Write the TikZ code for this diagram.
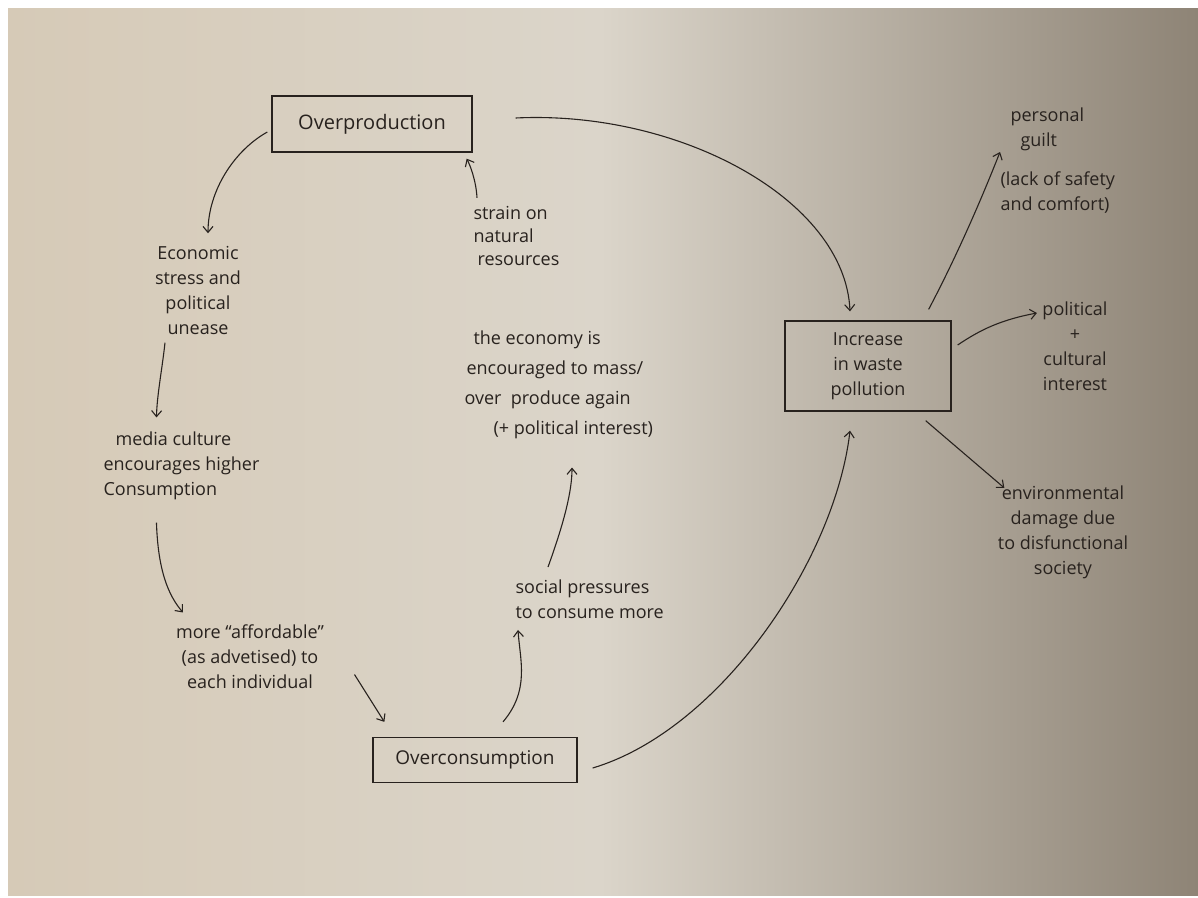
\documentclass[tikz,border=0pt]{standalone}
\usepackage{fontspec}
\setmainfont{Open Sans}
\usetikzlibrary{arrows.meta}
\definecolor{ink}{RGB}{40,34,30}
\definecolor{paperleft}{RGB}{214,202,183}
\definecolor{papermid}{RGB}{219,213,202}
\definecolor{paperright}{RGB}{142,132,118}
\begin{document}
\begin{tikzpicture}[x=1pt,y=-1pt,color=ink,line width=1.1pt,
    font=\fontsize{18}{25}\selectfont]
        % Styles
        \tikzstyle{box}=[draw,inner sep=0pt,line width=1.3pt]
        \tikzstyle{note}=[align=left,inner sep=0pt]
        \tikzstyle{flow}=[-{Straight Barb[length=6pt,width=10pt]}]
        %paper
        \useasboundingbox (0,0) rectangle (1198,897);
        \fill[white] (0,0) rectangle (1198,897);
        \shade[left color=paperleft,right color=papermid] (8,8) rectangle (600,895);
        \shade[left color=papermid,right color=paperright] (599.5,8) rectangle (1198,895);
        %the cycle
        \node[box,minimum width=200pt,minimum height=56pt,font=\fontsize{20}{25}\selectfont] (prod) at (372,124) {Overproduction};
        \node[note,align=center] (econ) at (198,290) {Economic\\stress and\\political\\unease};
        \node[note,anchor=west] (media) at (103,466) {\hspace*{12pt}media culture\\encourages higher\\Consumption};
        \node[note,align=center] (afford) at (250,657) {more “affordable”\\(as advetised) to\\each individual};
        \node[box,minimum width=204pt,minimum height=45pt,font=\fontsize{19}{25}\selectfont] (cons) at (475,760) {Overconsumption};
        \node[note,anchor=west] (social) at (515,599) {social pressures\\to consume more};
        \node[note,anchor=west,font=\fontsize{18}{30}\selectfont] (again) at (464,385) {\hspace*{9pt}the economy is\\\hspace*{2pt}encouraged to mass/\\over\ \ produce again\\\hspace*{29pt}(+ political interest)};
        \node[note,anchor=west,font=\fontsize{18}{23}\selectfont] (strain) at (473,236) {strain on\\natural\\\hspace*{4pt}resources};
        %the results
        \node[box,align=center,minimum width=166pt,minimum height=90pt] (waste) at (868,366) {Increase\\in waste\\pollution};
        \node[note,anchor=west] (guilt) at (1000,161) {\hspace*{10pt}personal\\\hspace*{20pt}guilt\\[14pt](lack of safety\\and comfort)};
        \node[note,align=center] (polit) at (1075,346) {political\\+\\cultural\\interest};
        \node[note,align=center] (env) at (1063,532) {environmental\\damage due\\to disfunctional\\society};
        %arrows
        \draw[flow] ([shift={(-4,8)}]prod.west) .. controls (235,150) and (208,190) .. ([shift={(10,-12)}]econ.north);
        \draw[flow] ([shift={(-33,8)}]econ.south) .. controls (162,370) and (157,395) .. ([shift={(-25,-14)}]media.north);
        \draw[flow] ([shift={(-25,22)}]media.south) .. controls (158,570) and (168,595) .. ([shift={(-67,-12)}]afford.north);
        \draw[flow] ([shift={(30,-15)}]afford.south east) -- ([shift={(12,-15)}]cons.north west);
        \draw[flow] ([shift={(28,-15)}]cons.north) .. controls (530,690) and (520,660) .. ([shift={(3,11)}]social.south west);
        \draw[flow] ([shift={(33,-12)}]social.north west) .. controls (565,520) and (572,490) .. ([shift={(108,28)}]again.south west);
        \draw[flow] ([shift={(4,-8)}]strain.north west) .. controls (476,180) and (470,165) .. ([shift={(-6,6)}]prod.south east);
        \draw[flow] ([shift={(43,-6)}]prod.east) .. controls (680,110) and (845,200) .. ([shift={(-18,-9)}]waste.north);
        \draw[flow] ([shift={(15,8)}]cons.east) .. controls (720,730) and (835,560) .. ([shift={(-18,19)}]waste.south);
        \draw[flow] ([shift={(-23,-11)}]waste.north east) .. controls (960,250) and (985,190) .. ([shift={(0,-9)}]guilt.west);
        \draw[flow] ([shift={(6,-21)}]waste.east) .. controls (980,330) and (1000,320) .. ([shift={(-5,-33)}]polit.west);
        \draw[flow] ([shift={(-26,9)}]waste.south east) -- ([shift={(7,3)}]env.north west);
\end{tikzpicture}
\end{document}
